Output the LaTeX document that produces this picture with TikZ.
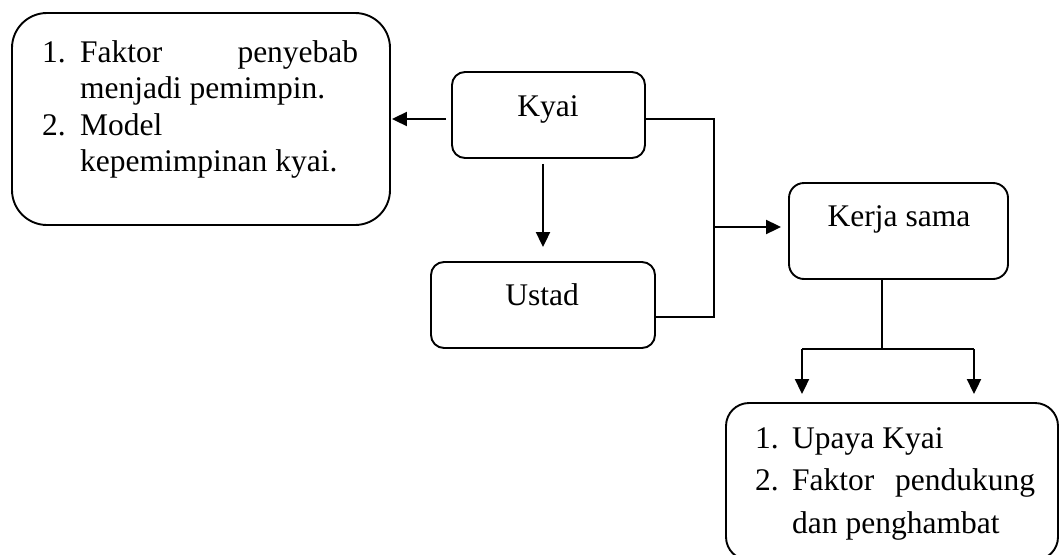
\documentclass[tikz,border=0pt]{standalone}
\usepackage{fontspec}
\setmainfont{Liberation Serif}
\usetikzlibrary{arrows.meta}
\begin{document}
\begin{tikzpicture}[x=1pt,y=-1pt,
  box/.style={draw,line width=1.9pt,rounded corners=#1,inner sep=0pt},
  box/.default=13pt,
  txt/.style={inner sep=0pt,font=\fontsize{31.5}{36.5}\selectfont},
  ln/.style={line width=2pt},
  arr/.style={ln,-{Triangle[length=15pt,width=14pt]}}]
\useasboundingbox (0,0) rectangle (1059,554);
% boxes
\node[box=35pt,minimum width=378pt,minimum height=212pt] (left) at (201,119) {};
\node[box,minimum width=193pt,minimum height=86pt] (kyai) at (548.5,115) {};
\node[box,minimum width=224pt,minimum height=86pt] (ustad) at (543,305) {};
\node[box=15pt,minimum width=219pt,minimum height=96pt] (kerja) at (898.5,231) {};
\node[box=23pt,minimum width=332pt,minimum height=157pt] (bottom) at (892,481.5) {};
% texts
\node[txt,anchor=base west] (leftT) at (42,62) {%
  \begin{tabular}[t]{@{}l@{}l@{}}
  \makebox[38pt][l]{1.} & \makebox[278pt][s]{Faktor penyebab}\\
   & menjadi pemimpin.\\
  \makebox[38pt][l]{2.} & Model\\
   & kepemimpinan kyai.
  \end{tabular}};
\node[txt,anchor=base] (kyaiT) at (548,116) {Kyai};
\node[txt,anchor=base] (ustadT) at (542,305) {Ustad};
\node[txt,anchor=base] (kerjaT) at (899,226) {Kerja sama};
\node[txt,anchor=base west,font=\fontsize{31.5}{42.5}\selectfont] (bottomT) at (755,448) {%
  \begin{tabular}[t]{@{}l@{}l@{}}
  \makebox[37pt][l]{1.} & Upaya Kyai\\
  \makebox[37pt][l]{2.} & \makebox[243pt][s]{Faktor pendukung}\\
   & dan penghambat
  \end{tabular}};
% junctions
\coordinate (j1) at (714,119);
\coordinate (j2) at (714,317);
\coordinate (j3) at (714,227);
\coordinate (j4) at (882,349);
\coordinate (b1) at (802,349);
\coordinate (b2) at (974,349);
% connectors
\draw[arr,shorten >=1pt] ([xshift=-5pt,yshift=-4pt]kyai.west) -- (left.east |- j1);
\draw[arr,shorten >=14pt] ([yshift=-5pt]kyai.south -| ustad.north) -- (ustad.north);
\draw[ln] ([yshift=-4pt]kyai.east) -- (j1) -- (j2) -- (ustad.east |- j2);
\draw[arr,shorten >=7pt] (j3) -- (kerja.west |- j3);
\draw[ln] (kerja.south -| j4) -- (j4);
\draw[ln] (b1) -- (b2);
\draw[arr,shorten >=8pt] (b1) -- (bottom.north -| b1);
\draw[arr,shorten >=8pt] (b2) -- (bottom.north -| b2);
\end{tikzpicture}
\end{document}
